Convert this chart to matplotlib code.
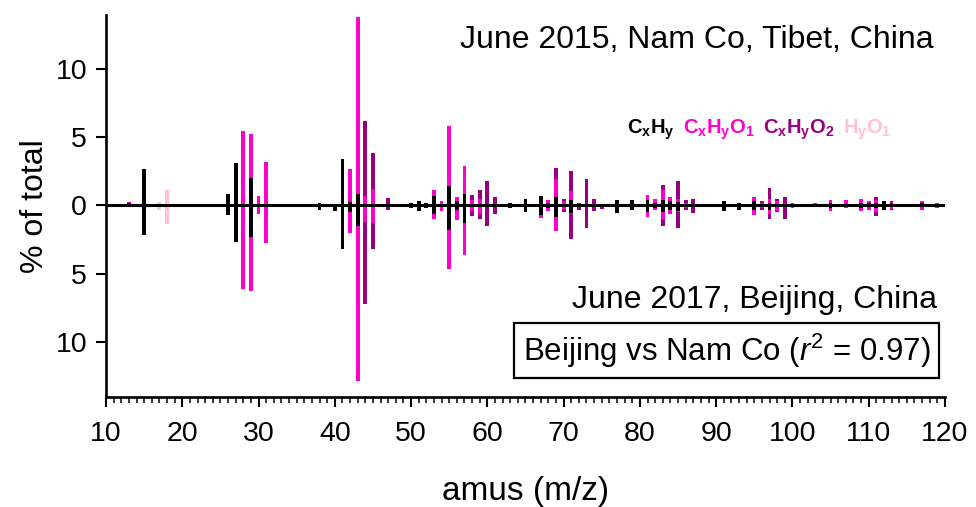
import numpy as np
import matplotlib
matplotlib.use('Agg')
import matplotlib.pyplot as plt
from matplotlib.offsetbox import TextArea, HPacker, AnchoredOffsetbox
from matplotlib.ticker import MultipleLocator, FuncFormatter

plt.rcParams['font.family'] = ['Liberation Sans', 'DejaVu Sans']
plt.rcParams['mathtext.fontset'] = 'custom'
plt.rcParams['mathtext.rm'] = 'Liberation Sans'
plt.rcParams['mathtext.it'] = 'Liberation Sans:italic'
plt.rcParams['mathtext.bf'] = 'Liberation Sans:bold'

# ---------------- data (% of total; Nam Co up, Beijing down) ----------------
cxhy_mz      = [12, 13, 15, 26, 27, 29, 38, 40, 41, 42, 43, 50, 51, 52, 53, 54, 55, 56, 57,
                63, 65, 67, 68, 69, 71, 77, 79, 80, 81, 82, 83, 84, 85, 91, 93, 95, 97,
                100, 103, 105, 109, 110, 111, 112, 113, 117]
cxhy_namco   = [0.05, 0.15, 2.63, 0.8, 3.1, 2.02, 0.2, 0.0, 3.36, 0.24, 0.85, 0.2, 0.34, 0.2, 0.7, 0.1, 1.4, 0.3, 0.8,
                0.2, 0.46, 0.66, 0.15, 0.6, 0.36, 0.36, 0.41, 0.1, 0.36, 0.2, 0.36, 0.3, 0.25, 0.3, 0.2, 0.3, 0.2,
                0.1, 0.1, 0.2, 0.2, 0.15, 0.15, 0.3, 0.15, 0.15]
cxhy_beijing = [0.15, 0.1, 2.14, 0.7, 2.7, 2.3, 0.3, 0.4, 3.2, 0.5, 1.5, 0.2, 0.4, 0.2, 0.65, 0.1, 1.78, 0.35, 1.25,
                0.2, 0.49, 0.73, 0.2, 0.85, 0.56, 0.54, 0.37, 0.1, 0.5, 0.2, 0.49, 0.3, 0.4, 0.42, 0.36, 0.3, 0.3,
                0.1, 0.1, 0.2, 0.2, 0.15, 0.2, 0.3, 0.15, 0.15]

cxhyo1_mz      = [13, 28, 29, 30, 31, 42, 43, 44, 45, 46, 53, 54, 55, 56, 57, 58, 59, 66, 67, 68, 69, 70,
                  71, 72, 81, 82, 83, 84, 85, 86, 94, 95, 96, 97, 98, 100, 101, 103, 105, 106, 107, 108,
                  109, 110, 111, 113, 115, 117, 118, 119]
cxhyo1_namco   = [0.1, 5.47, 3.21, 0.66, 3.2, 2.4, 12.95, 0.68, 1.17, 0.05, 0.4, 0.2, 4.37, 0.3, 2.05, 0.36, 0.44, 0.1, 0.0, 0.21, 1.35, 0.3,
                  0.69, 0.1, 0.42, 0.24, 0.74, 0.3, 0.2, 0.2, 0.1, 0.3, 0.2, 0.3, 0.35, 0.1, 0.1, 0.05, 0.21, 0.1, 0.36, 0.1,
                  0.24, 0.2, 0.25, 0.1, 0.1, 0.2, 0.1, 0.2]
cxhyo1_beijing = [0.05, 6.08, 3.95, 0.63, 2.75, 1.5, 11.35, 1.2, 1.3, 0.05, 0.32, 0.34, 2.84, 0.7, 2.4, 0.44, 0.6, 0.1, 0.17, 0.24, 1.02, 0.35,
                  0.1, 0.1, 0.35, 0.1, 0.53, 0.36, 0.1, 0.2, 0.1, 0.38, 0.2, 0.3, 0.4, 0.1, 0.1, 0.05, 0.24, 0.1, 0.22, 0.1,
                  0.24, 0.2, 0.3, 0.1, 0.1, 0.2, 0.1, 0.2]

cxhyo2_mz      = [44, 45, 47, 58, 59, 60, 61, 69, 70, 71, 72, 73, 74, 75, 83, 85, 86, 87, 96, 97, 98, 99, 111, 113]
cxhyo2_namco   = [5.47, 2.68, 0.53, 0.37, 0.66, 1.82, 0.6, 0.77, 0.16, 1.5, 0.1, 1.95, 0.44, 0.12, 0.41, 1.3, 0.16, 0.44,
                  0.1, 0.79, 0.1, 0.6, 0.2, 0.1]
cxhyo2_beijing = [6.0, 1.86, 0.37, 0.34, 0.42, 1.53, 0.6, 0.0, 0.14, 1.77, 0.27, 1.65, 0.44, 0.27, 0.49, 1.16, 0.1, 0.54,
                  0.1, 0.37, 0.1, 0.97, 0.28, 0.1]

hyo1_mz      = [17, 18]
hyo1_namco   = [0.25, 1.15]
hyo1_beijing = [0.3, 1.35]

family_labels = [r'$\mathbf{C_xH_y}$', r'$\mathbf{C_xH_yO_1}$', r'$\mathbf{C_xH_yO_2}$', r'$\mathbf{H_yO_1}$']
family_colors = ['#000000', '#FF00CC', '#990080', '#FFC0D8']

xtick_values = [10, 20, 30, 40, 50, 60, 70, 80, 90, 100, 110, 120]
ytick_values = [-10, -5, 0, 5, 10]

# ---------------- figure ----------------
fig = plt.figure(figsize=(9.76, 5.07), dpi=100)
ax = fig.add_axes([0.1086, 0.217, 0.8596, 0.753])

mz_all = np.arange(10, 121)
families = [
    (cxhy_mz, cxhy_namco, cxhy_beijing),
    (cxhyo1_mz, cxhyo1_namco, cxhyo1_beijing),
    (cxhyo2_mz, cxhyo2_namco, cxhyo2_beijing),
    (hyo1_mz, hyo1_namco, hyo1_beijing),
]
base_up = np.zeros(mz_all.size)
base_dn = np.zeros(mz_all.size)
for (mzs, up, dn), col in zip(families, family_colors):
    u = np.zeros(mz_all.size)
    d = np.zeros(mz_all.size)
    idx = np.array(mzs) - 10
    u[idx] = up
    d[idx] = dn
    m = u > 0
    ax.bar(mz_all[m], u[m], bottom=base_up[m], width=0.5, color=col, linewidth=0, zorder=2)
    m = d > 0
    ax.bar(mz_all[m], -d[m], bottom=-base_dn[m], width=0.5, color=col, linewidth=0, zorder=2)
    base_up += u
    base_dn += d

ax.axhline(0, color='black', lw=2.2, zorder=3)

ax.set_xlim(10, 120)
ax.set_ylim(-14.0, 13.9)
ax.set_xticks(xtick_values)
ax.xaxis.set_minor_locator(MultipleLocator(1))
ax.set_yticks(ytick_values)
ax.yaxis.set_major_formatter(FuncFormatter(lambda v, p: f'{abs(v):g}'))

for s in ['top', 'right']:
    ax.spines[s].set_visible(False)
for s in ['left', 'bottom']:
    ax.spines[s].set_linewidth(1.9)

ax.tick_params(axis='y', which='major', direction='out', length=7.5, width=1.5, labelsize=20.5, pad=6)
ax.tick_params(axis='x', which='major', direction='out', length=7, width=1.5, labelsize=20.5, pad=10)
ax.tick_params(axis='x', which='minor', direction='out', length=4, width=1.1)

ax.set_xlabel('amus (m/z)', fontsize=24, labelpad=21)
ax.set_ylabel('% of total', fontsize=23, labelpad=4)

ax.text(0.986, 0.935, 'June 2015, Nam Co, Tibet, China', transform=ax.transAxes,
        ha='right', va='center', fontsize=23)
ax.text(0.990, 0.254, 'June 2017, Beijing, China', transform=ax.transAxes,
        ha='right', va='center', fontsize=23)
ax.text(0.983, 0.122, r'Beijing vs Nam Co ($r^2$ = 0.97)', transform=ax.transAxes,
        ha='right', va='center', fontsize=22.5,
        bbox=dict(boxstyle='square,pad=0.28', facecolor='white', edgecolor='black', linewidth=1.6))

# family legend (colored text)
areas = [TextArea(lbl, textprops=dict(color=c, fontsize=14.5)) for lbl, c in zip(family_labels, family_colors)]
pack = HPacker(children=areas, align='baseline', pad=0, sep=6)
anch = AnchoredOffsetbox(loc='center left', child=pack, pad=0, borderpad=0, frameon=False,
                         bbox_to_anchor=(0.621, 0.70), bbox_transform=ax.transAxes)
ax.add_artist(anch)

fig.savefig('out.png', dpi=100)
